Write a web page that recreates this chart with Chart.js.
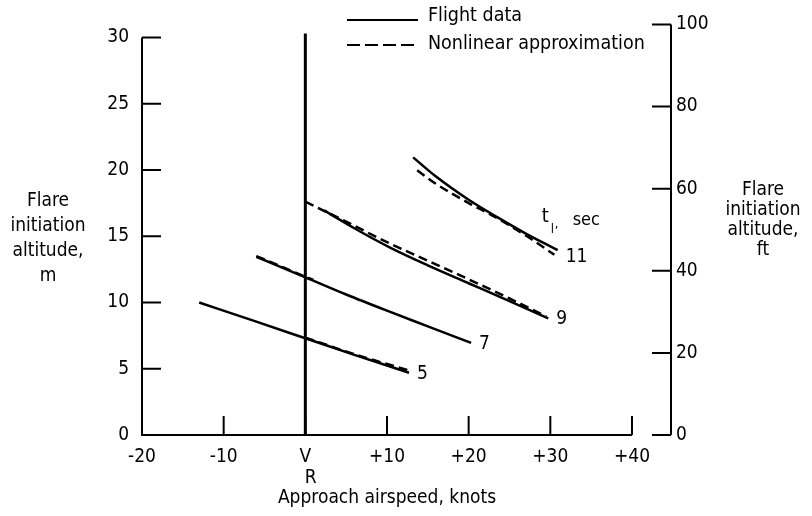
<!DOCTYPE html>
<html>
<head>
<meta charset="utf-8">
<script src="https://cdn.jsdelivr.net/npm/chart.js@4/dist/chart.umd.min.js"></script>
<style>
html,body{margin:0;padding:0;background:#fff;}
#wrap{width:812px;height:516px;position:relative;}
</style>
</head>
<body>
<div id="wrap"><canvas id="c" width="812" height="516"></canvas></div>
<script>
// ---- tick values / labels ----
const xTickValues = [-20, -10, 0, 10, 20, 30, 40];
const xTickLabels = ['-20', '-10', ['V', '  R'], '+10', '+20', '+30', '+40'];
const yTickValues = [0, 5, 10, 15, 20, 25, 30];      // metres
const y2TickValues = [0, 20, 40, 60, 80, 100];       // feet

// ---- series (approach airspeed in knots re V_R, altitude in m) ----
const flight5X = [-13, -6, 0, 6, 12.7];
const flight5Y = [10.0, 8.55, 7.3, 6.05, 4.7];
const approx5X = [0, 6, 12.5];
const approx5Y = [7.35, 6.1, 4.9];

const flight7X = [-6, 0, 5, 10, 15, 20.3];
const flight7Y = [13.45, 11.9, 10.6, 9.38, 8.2, 6.95];
const approx7X = [-6, -3, 0, 1];
const approx7Y = [13.5, 12.72, 11.95, 11.7];

const flight9X = [2.3, 6, 10.5, 15, 20, 25, 29.75];
const flight9Y = [16.95, 15.6, 14.1, 12.8, 11.45, 10.1, 8.8];
const approx9X = [0, 5, 10, 15, 20, 25, 29.5];
const approx9Y = [17.6, 16.1, 14.55, 13.15, 11.75, 10.3, 8.95];

const flight11X = [13.2, 16, 20, 23.6, 27, 30.9];
const flight11Y = [20.95, 19.5, 17.75, 16.4, 15.2, 13.95];
const approx11X = [13.7, 16, 20, 23.1, 27, 30.5];
const approx11Y = [19.97, 18.95, 17.5, 16.5, 15.05, 13.6];

const vrLineX = [0, 0];
const vrLineY = [0, 30.3];

const curveLabels = ['5', '7', '9', '11'];
const legendLabels = ['Flight data', 'Nonlinear approximation'];

const FONT = '"DejaVu Sans Condensed", "Liberation Sans Narrow", "DejaVu Sans", sans-serif';
const FS = 19;

function pts(xs, ys) { return xs.map((x, i) => ({ x: x, y: ys[i] })); }
function solid(xs, ys) {
  return { data: pts(xs, ys), borderColor: '#000', borderWidth: 2.5, pointRadius: 0, cubicInterpolationMode: 'monotone', fill: false, isFlight: true };
}
function dashed(xs, ys) {
  return { data: pts(xs, ys), borderColor: '#000', borderWidth: 2.5, borderDash: [9, 5], pointRadius: 0, cubicInterpolationMode: 'monotone', fill: false };
}

const datasets = [
  solid(flight5X, flight5Y), dashed(approx5X, approx5Y),
  solid(flight7X, flight7Y), dashed(approx7X, approx7Y),
  solid(flight9X, flight9Y), dashed(approx9X, approx9Y),
  solid(flight11X, flight11Y), dashed(approx11X, approx11Y),
  { data: pts(vrLineX, vrLineY), borderColor: '#000', borderWidth: 3, pointRadius: 0, fill: false }
];

const decor = {
  id: 'decor',
  afterDatasetsDraw(chart) {
    const ctx = chart.ctx;
    const xs = chart.scales.x, ys = chart.scales.y, y2 = chart.scales.y2;
    const TL = 19;
    ctx.save();
    ctx.strokeStyle = '#000';
    ctx.lineWidth = 2;
    ctx.setLineDash([]);
    const x0 = xs.getPixelForValue(xTickValues[0]);
    const x1 = xs.getPixelForValue(xTickValues[xTickValues.length - 1]);
    const yb = ys.getPixelForValue(yTickValues[0]);
    const yt = ys.getPixelForValue(yTickValues[yTickValues.length - 1]);
    ctx.beginPath();
    ctx.moveTo(x0, yt); ctx.lineTo(x0, yb); ctx.lineTo(x1, yb);
    yTickValues.forEach(v => { if (v === yTickValues[0]) return; const p = ys.getPixelForValue(v); ctx.moveTo(x0, p); ctx.lineTo(x0 + TL, p); });
    xTickValues.forEach(v => { if (v === xTickValues[0]) return; const p = xs.getPixelForValue(v); ctx.moveTo(p, yb); ctx.lineTo(p, yb - TL); });
    const xr = chart.chartArea.right - 1;
    ctx.moveTo(xr, y2.getPixelForValue(y2TickValues[0]));
    ctx.lineTo(xr, y2.getPixelForValue(y2TickValues[y2TickValues.length - 1]));
    y2TickValues.forEach(v => { const p = y2.getPixelForValue(v); ctx.moveTo(xr, p); ctx.lineTo(xr - TL, p); });
    ctx.stroke();

    // curve labels at end of each flight-data curve
    ctx.fillStyle = '#000';
    ctx.font = FS + 'px ' + FONT;
    ctx.textBaseline = 'middle';
    ctx.textAlign = 'left';
    const flightSets = chart.data.datasets.map((d, i) => [d, i]).filter(p => p[0].isFlight);
    flightSets.forEach((p, k) => {
      const meta = chart.getDatasetMeta(p[1]);
      const last = meta.data[meta.data.length - 1];
      const dy = k === 3 ? 7 : 1;
      ctx.fillText(curveLabels[k], last.x + 8, last.y + dy);
      if (k === 3) {
        // t_l, sec
        ctx.font = '20px ' + FONT;
        ctx.fillText('t', last.x - 16, last.y - 33);
        ctx.font = '13px ' + FONT;
        ctx.fillText('l', last.x - 7, last.y - 20);
        ctx.fillText(',', last.x - 3, last.y - 25);
        ctx.font = '18px ' + FONT;
        ctx.fillText('sec', last.x + 15, last.y - 30);
        ctx.font = FS + 'px ' + FONT;
      }
    });

    // legend
    const lx0 = 347, lx1 = 418;
    ctx.beginPath();
    ctx.moveTo(lx0, 20); ctx.lineTo(lx1, 20);
    ctx.stroke();
    ctx.setLineDash([13, 5]);
    ctx.beginPath();
    ctx.moveTo(lx0, 45); ctx.lineTo(lx1, 45);
    ctx.stroke();
    ctx.setLineDash([]);
    ctx.font = '19.5px ' + FONT;
    ctx.fillText(legendLabels[0], 428, 16);
    ctx.fillText(legendLabels[1], 428, 44);

    // axis titles
    ctx.font = FS + 'px ' + FONT;
    ctx.textAlign = 'center';
    const leftTitle = ['Flare', 'initiation', 'altitude,', 'm'];
    leftTitle.forEach((t, i) => ctx.fillText(t, 48, 201 + i * 25));
    const rightTitle = ['Flare', 'initiation', 'altitude,', 'ft'];
    rightTitle.forEach((t, i) => ctx.fillText(t, 763, 190 + i * 20));
    ctx.fillText('Approach airspeed, knots', 387, 498);
    ctx.restore();
  }
};

new Chart(document.getElementById('c'), {
  type: 'line',
  data: { datasets: datasets },
  options: {
    responsive: false,
    animation: false,
    devicePixelRatio: 1,
    layout: { padding: { top: 24, bottom: 0, left: 0, right: 0 } },
    plugins: { legend: { display: false }, tooltip: { enabled: false } },
    scales: {
      x: {
        type: 'linear', position: 'bottom', min: -20, max: 44.9,
        afterBuildTicks: s => { s.ticks = xTickValues.map(v => ({ value: v })); },
        afterFit: s => { s.height = 81; },
        grid: { display: false, drawTicks: false },
        border: { display: false },
        ticks: {
          color: '#000', padding: 12, maxRotation: 0, autoSkip: false,
          font: { family: FONT, size: FS, lineHeight: 1.1 },
          callback: v => xTickLabels[xTickValues.indexOf(v)]
        }
      },
      y: {
        type: 'linear', position: 'left', min: 0, max: 30.98,
        afterBuildTicks: s => { s.ticks = yTickValues.map(v => ({ value: v })); },
        afterFit: s => { s.width = 142; },
        grid: { display: false, drawTicks: false },
        border: { display: false },
        ticks: { color: '#000', padding: 13, font: { family: FONT, size: FS }, callback: v => String(v) }
      },
      y2: {
        type: 'linear', position: 'right', min: 0, max: 100,
        afterBuildTicks: s => { s.ticks = y2TickValues.map(v => ({ value: v })); },
        afterFit: s => { s.width = 140; },
        grid: { display: false, drawTicks: false },
        border: { display: false },
        ticks: { color: '#000', padding: 4, font: { family: FONT, size: FS }, callback: v => String(v) }
      }
    }
  },
  plugins: [decor]
});
</script>
</body>
</html>
